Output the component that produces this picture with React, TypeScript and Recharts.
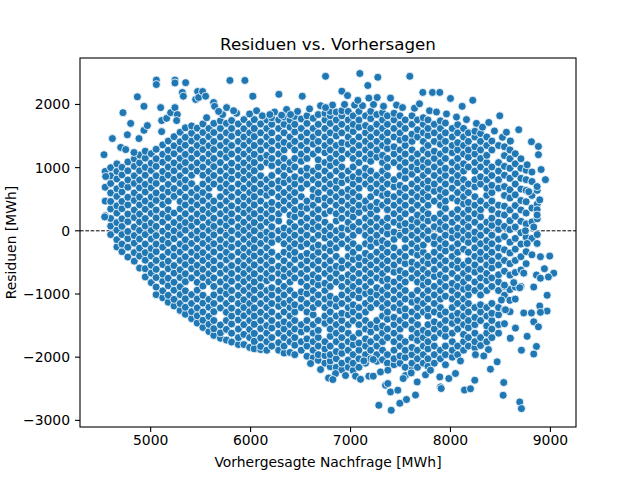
import React from 'react';
import { ScatterChart, Scatter, XAxis, YAxis, ReferenceLine } from 'recharts';

// Dense core of the cloud, read column by column: [prediction, residuals in that column]
const columnsWest: [number, number[]][] = [
  [4545, [240, 470, 690, 940]],
  [4600, [-60, 75, 195, 345, 465, 600, 750, 870, 1000]],
  [4662, [-255, -140, 10, 130, 280, 395, 545, 665, 820, 940, 1060]],
  [4713, [-330, -210, -60, 70, 190, 350, 465, 615, 730, 885, 1005]],
  [4772, [-415, -260, -125, -10, 145, 265, 410, 530, 690, 805, 950, 1090]],
  [4836, [-480, -345, -195, -75, 60, 210, 330, 480, 600, 750, 870, 1020, 1140]],
  [4889, [-590, -400, -275, -130, 5, 140, 265, 410, 535, 680, 805, 950, 1075, 1200]],
  [4946, [-730, -600, -465, -345, -210, -60, 75, 195, 340, 470, 615, 735, 880, 1005, 1150, 1260]],
  [5006, [-820, -670, -545, -400, -280, -130, 5, 125, 275, 410, 535, 680, 800, 955, 1070, 1220]],
  [5055, [-1010, -890, -740, -610, -470, -330, -210, -75, 70, 205, 330, 480, 600, 750, 870, 1020, 1140, 1290]],
  [5121, [-1060, -950, -800, -685, -535, -410, -260, -140, -5, 140, 265, 415, 540, 670, 820, 940, 1085, 1210, 1360]],
  [5176, [-1130, -1020, -870, -750, -600, -480, -340, -195, -70, 60, 210, 335, 470, 615, 735, 880, 1010, 1150, 1275, 1420]],
  [5234, [-1190, -1085, -940, -815, -670, -550, -400, -275, -125, 0, 130, 280, 545, 670, 815, 950, 1075, 1220, 1345, 1490]],
  [5295, [-1260, -1150, -1010, -885, -740, -615, -470, -335, -210, -60, 70, 200, 345, 465, 610, 750, 870, 1015, 1145, 1290, 1410, 1560]],
  [5347, [-1320, -1210, -1075, -950, -805, -680, -535, -410, -265, -140, 10, 130, 270, 410, 535, 680, 805, 950, 1080, 1210, 1355, 1480, 1630]],
  [5410, [-1390, -1280, -1150, -1010, -745, -600, -475, -340, -200, -65, 75, 195, 340, 470, 605, 745, 880, 1010, 1150, 1280, 1420, 1545, 1660]],
  [5466, [-1460, -1345, -1220, -1080, -940, -815, -670, -545, -400, -275, -130, -5, 140, 265, 410, 540, 670, 945, 1075, 1220, 1350, 1480, 1625]],
  [5523, [-1530, -1415, -1285, -1145, -1020, -875, -740, -610, -470, -345, -200, -70, 65, 205, 335, 475, 605, 740, 880, 1010, 1145, 1285, 1415, 1555, 1690]],
];

const columnsCenter: [number, number[]][] = [
  [5583, [-1595, -1480, -1355, -1210, -1085, -805, -680, -540, -410, -265, -135, 5, 130, 275, 400, 545, 675, 810, 940, 1085, 1215, 1345, 1490, 1620]],
  [5632, [-1655, -1550, -1420, -1280, -1150, -1015, -880, -745, -605, -475, -335, -205, -65, 70, 200, 340, 470, 740, 875, 1015, 1145, 1285, 1415, 1555, 1700]],
  [5698, [-1700, -1615, -1490, -1220, -1075, -950, -810, -670, -545, -405, -270, -140, 0, 135, 270, 405, 540, 680, 810, 945, 1080, 1215, 1350, 1485, 1620, 1740]],
  [5758, [-1730, -1560, -1420, -1290, -1150, -1000, -880, -750, -610, -460, -340, -210, -70, 80, 200, 330, 470, 615, 740, 870, 1010, 1160, 1280, 1410, 1550, 1700]],
  [5810, [-1760, -1620, -1475, -1350, -1225, -1080, -945, -800, -675, -550, -405, -260, -135, 0, 145, 270, 395, 540, 675, 820, 945, 1070, 1215, 1350, 1495, 1620, 1745]],
  [5878, [-1800, -1690, -1555, -1410, -1285, -1150, -1020, -880, -745, -610, -480, -340, -205, -60, 65, 200, 340, 470, 605, 740, 880, 1010, 1145, 1275, 1415, 1550, 1690]],
  [5933, [-1800, -1640, -1485, -1345, -1215, -1090, -945, -805, -675, -545, -405, -275, -135, 5, 135, 280, 405, 535, 675, 815, 945, 1075, 1215, 1355, 1485, 1615, 1760]],
  [5991, [-1845, -1690, -1560, -1420, -1280, -1150, -1015, -885, -745, -610, -470, -340, -205, -70, 65, 205, 335, 475, 605, 740, 880, 1010, 1145, 1280, 1420, 1550, 1690]],
  [6038, [-1865, -1750, -1625, -1480, -1350, -1220, -1080, -940, -810, -680, -540, -400, -270, -140, 0, 130, 270, 410, 540, 670, 810, 950, 1080, 1210, 1350, 1490, 1620, 1760]],
  [6101, [-1880, -1830, -1695, -1550, -1420, -1290, -1150, -1010, -880, -750, -610, -470, -340, -200, -70, 70, 200, 330, 470, 610, 740, 870, 1010, 1150, 1280, 1410, 1550, 1690]],
  [6162, [-1890, -1755, -1620, -1500, -1350, -1215, -1080, -945, -790, -675, -540, -405, -270, -135, -20, 135, 270, 405, 560, 675, 810, 1080, 1195, 1350, 1485, 1620, 1755]],
  [6212, [-1825, -1690, -1540, -1420, -1285, -1150, -1015, -900, -745, -610, -475, -340, -185, -70, 65, 200, 335, 450, 605, 740, 875, 1030, 1145, 1280, 1415, 1550, 1685, 1790]],
  [6281, [-1890, -1770, -1620, -1485, -1350, -1195, -1080, -945, -810, -675, -560, -405, -135, 0, 155, 270, 405, 540, 675, 790, 945, 1080, 1215, 1350, 1470, 1620, 1755]],
  [6335, [-1935, -1825, -1690, -1555, -1440, -1285, -1150, -1015, -880, -725, -610, -475, -340, -205, -70, 45, 335, 470, 605, 760, 875, 1010, 1145, 1280, 1400, 1550, 1685, 1800]],
  [6394, [-1925, -1755, -1620, -1485, -1350, -1215, -1100, -945, -810, -675, -540, -385, -270, -135, 0, 135, 250, 405, 540, 675, 810, 965, 1080, 1350, 1485, 1640, 1755]],
  [6442, [-1960, -1810, -1690, -1555, -1420, -1285, -1170, -1015, -745, -610, -455, -340, -205, -70, 65, 220, 335, 470, 605, 740, 855, 1010, 1145, 1280, 1415, 1565, 1685, 1810]],
  [6507, [-1890, -1755, -1600, -1485, -1215, -1080, -965, -810, -675, -540, -405, -250, -135, 0, 135, 270, 385, 540, 675, 810, 945, 1100, 1215, 1350, 1485, 1620, 1770]],
  [6564, [-1985, -1825, -1710, -1555, -1420, -1285, -1150, -995, -880, -745, -610, -475, -360, -205, -70, 65, 200, 355, 470, 740, 875, 990, 1145, 1280, 1415, 1550, 1700, 1820]],
  [6626, [-2010, -1890, -1755, -1620, -1485, -1330, -1215, -1080, -945, -810, -695, -540, -405, -270, -135, 20, 135, 270, 405, 540, 655, 810, 945, 1215, 1370, 1485, 1620, 1780]],
  [6677, [-2050, -1960, -1825, -1690, -1575, -1420, -1150, -1015, -860, -745, -610, -475, -340, -225, -70, 65, 200, 335, 490, 605, 740, 875, 1010, 1125, 1280, 1415, 1550, 1685, 1840]],
  [6744, [-2095, -1975, -1870, -1755, -1465, -1350, -1215, -1080, -945, -830, -675, -540, -405, -270, -115, 0, 135, 270, 405, 520, 675, 810, 945, 1080, 1235, 1350, 1485, 1620, 1755, 1860]],
  [6797, [-2150, -2060, -1960, -1825, -1670, -1555, -1420, -1285, -1150, -1035, -880, -745, -610, -475, -320, -205, -70, 65, 315, 470, 605, 740, 875, 1030, 1145, 1280, 1415, 1550, 1700, 1820, 1890]],
  [6857, [-2160, -2025, -1910, -1755, -1620, -1485, -1350, -1195, -1080, -810, -675, -560, -405, -270, -135, 0, 155, 270, 405, 540, 675, 790, 945, 1080, 1215, 1350, 1500, 1620, 1755, 1880]],
];

const columnsEast: [number, number[]][] = [
  [6913, [-2200, -2095, -1940, -1825, -1690, -1555, -1420, -1305, -1150, -1015, -880, -745, -590, -475, -205, -70, 45, 200, 335, 470, 605, 760, 875, 1010, 1145, 1280, 1395, 1550, 1685, 1820, 1900]],
  [6977, [-2160, -2045, -1890, -1755, -1620, -1485, -1330, -1215, -1080, -945, -810, -695, -540, -405, -270, -135, 20, 135, 270, 405, 540, 655, 810, 945, 1215, 1370, 1485, 1620, 1755, 1890]],
  [7026, [-2210, -2095, -1960, -1805, -1690, -1420, -1285, -1170, -1015, -880, -745, -610, -455, -340, -205, -70, 65, 220, 335, 470, 605, 740, 855, 1010, 1145, 1280, 1415, 1570, 1685, 1820]],
  [7084, [-2160, -2025, -1890, -1775, -1620, -1485, -1350, -1215, -1060, -945, -810, -675, -540, -425, -270, 0, 135, 290, 405, 540, 675, 810, 925, 1080, 1215, 1350, 1485, 1640, 1755, 1890]],
  [7150, [-2095, -1960, -1825, -1710, -1555, -1420, -1285, -1150, -995, -880, -745, -610, -475, -360, -205, -70, 65, 200, 355, 470, 740, 875, 990, 1145, 1280, 1415, 1550, 1665, 1820]],
  [7202, [-2025, -1890, -1755, -1600, -1485, -1215, -1080, -965, -810, -675, -540, -405, -250, -135, 0, 135, 270, 385, 540, 675, 810, 945, 1100, 1215, 1350, 1485, 1620, 1775, 1890]],
  [7263, [-2065, -1960, -1825, -1690, -1535, -1420, -1150, -1015, -900, -745, -610, -475, -340, -185, -70, 65, 200, 335, 450, 605, 740, 875, 1165, 1280, 1415, 1550, 1685, 1840]],
  [7320, [-2040, -1890, -1755, -1620, -1505, -1350, -1215, -1080, -945, -790, -675, -540, -405, -270, -155, 0, 135, 405, 560, 675, 810, 945, 1080, 1195, 1350, 1485, 1620, 1755, 1870]],
  [7369, [-2095, -1960, -1690, -1555, -1400, -1285, -1150, -1015, -880, -765, -610, -475, -340, -205, -50, 65, 200, 335, 470, 585, 740, 875, 1010, 1145, 1300, 1415, 1550, 1685, 1820]],
  [7435, [-2120, -2025, -1890, -1755, -1620, -1485, -1370, -1215, -1080, -945, -810, -655, -540, -405, -270, -135, -20, 135, 270, 405, 540, 695, 810, 1080, 1215, 1330, 1485, 1620, 1755, 1860]],
  [7495, [-2095, -1980, -1825, -1690, -1555, -1420, -1265, -1150, -1015, -880, -745, -630, -475, -340, -70, 85, 200, 335, 470, 605, 720, 875, 1010, 1145, 1280, 1435, 1550, 1685, 1820]],
  [7547, [-2160, -2005, -1890, -1755, -1485, -1350, -1235, -1080, -945, -810, -675, -520, -405, -270, -135, 0, 115, 270, 405, 540, 675, 830, 945, 1080, 1215, 1350, 1465, 1620, 1755]],
  [7615, [-2200, -2095, -1960, -1845, -1690, -1555, -1420, -1285, -1130, -1015, -745, -610, -495, -340, -205, -70, 65, 180, 335, 470, 605, 740, 895, 1010, 1145, 1280, 1415, 1530, 1685, 1820]],
  [7670, [-2160, -2025, -1890, -1735, -1620, -1485, -1350, -1215, -1100, -945, -810, -675, -540, -385, -270, -135, 0, 135, 250, 405, 540, 675, 810, 965, 1080, 1215, 1485, 1600, 1755]],
  [7728, [-2095, -1960, -1825, -1690, -1575, -1285, -1150, -1015, -860, -745, -610, -475, -340, -225, -70, 65, 200, 335, 490, 605, 740, 875, 1010, 1125, 1280, 1415, 1550, 1685, 1790]],
  [7775, [-2145, -2025, -1870, -1755, -1620, -1485, -1350, -1235, -1080, -945, -810, -675, -520, -405, -135, 0, 155, 270, 405, 540, 675, 790, 945, 1080, 1215, 1350, 1505, 1620, 1755]],
  [7838, [-2095, -1960, -1825, -1690, -1555, -1440, -1285, -1150, -1015, -880, -725, -610, -475, -340, -205, -90, 65, 200, 470, 625, 740, 875, 1010, 1145, 1260, 1415, 1550, 1685]],
  [7899, [-2025, -1890, -1620, -1485, -1330, -1215, -1080, -945, -810, -695, -540, -405, -270, -135, 20, 135, 270, 405, 540, 655, 810, 945, 1080, 1215, 1370, 1485, 1620, 1740]],
  [7949, [-1960, -1825, -1670, -1555, -1420, -1285, -1035, -880, -745, -610, -475, -320, -205, -70, 65, 200, 355, 470, 605, 740, 875, 990, 1145, 1280, 1415, 1550, 1705]],
  [8018, [-2000, -1890, -1755, -1620, -1465, -1350, -1215, -1080, -945, -830, -675, -540, -405, -270, -115, 0, 135, 270, 520, 675, 810, 945, 1080, 1235, 1350, 1485, 1620]],
  [8072, [-1960, -1825, -1555, -1420, -1305, -1150, -1015, -880, -745, -590, -475, -340, -205, -70, 45, 200, 335, 470, 605, 760, 875, 1010, 1145, 1280, 1395, 1550, 1680]],
  [8131, [-1890, -1755, -1640, -1485, -1350, -1215, -1080, -925, -810, -675, -540, -290, -135, 0, 135, 270, 425, 540, 675, 810, 945, 1060, 1215, 1350, 1485, 1620]],
  [8179, [-1825, -1690, -1535, -1420, -1285, -1150, -1015, -900, -745, -610, -475, -340, -185, -70, 65, 200, 335, 450, 605, 740, 1010, 1165, 1280, 1415, 1550]],
  [8244, [-1850, -1755, -1620, -1485, -1370, -1215, -945, -810, -655, -540, -405, -270, -135, -20, 135, 270, 405, 540, 695, 810, 945, 1080, 1215, 1330, 1485, 1575]],
  [8301, [-1815, -1690, -1420, -1285, -1170, -1015, -880, -745, -610, -455, -340, -205, -70, 65, 220, 335, 470, 740, 855, 1010, 1145, 1280, 1415, 1540]],
  [8363, [-1755, -1620, -1505, -1350, -1215, -945, -790, -675, -540, -405, -270, -155, 0, 135, 405, 560, 675, 810, 945, 1080, 1195, 1350, 1485]],
  [8414, [-1690, -1555, -1420, -1305, -1150, -880, -745, -590, -475, -340, -205, -70, 85, 200, 335, 470, 605, 720, 875, 1010, 1280, 1420]],
  [8481, [-1620, -1485, -1330, -1215, -945, -810, -695, -540, -405, -270, -135, 20, 135, 270, 405, 675, 810, 945, 1080, 1350]],
];

const columnsTail: [number, number[]][] = [
  [8540, [-1470, -1250, -1020, -880, -640, -470, -300, -90, 70, 250, 390, 560, 700, 880, 1020, 1190, 1330]],
  [8596, [-1280, -1100, -930, -700, -520, -350, -180, 20, 160, 330, 520, 650, 830, 990, 1140, 1280]],
  [8648, [-1080, -890, -660, -470, -290, -120, 60, 230, 400, 570, 740, 900, 1060, 1220]],
  [8705, [-880, -620, -410, -210, -30, 150, 330, 480, 660, 830, 990, 1140]],
  [8757, [-520, -330, -100, 110, 280, 460, 640, 810, 960]],
  [8815, [-380, -120, 140, 360, 560, 780, 930]],
  [8868, [-60, 190, 420, 640]],
];

// Ragged rim just outside the dense core: [prediction, residual]
const edgeFringe: [number, number][] = [
  [5560, 1790], [5720, 1840], [5860, 1860], [5990, 1850], [6060, 1900], [6240, 1880], [6360, 1920],
  [6470, 1890], [6590, 1930], [6700, 1980], [6820, 1990], [6940, 2000], [7040, 1990], [7120, 1980],
  [7230, 2000], [7330, 1970], [7460, 1990], [7520, 1950], [7640, 1940], [7690, 2010], [7790, 1900],
  [7860, 1880], [7960, 1850], [8060, 1800], [8160, 1760], [8260, 1700], [8320, 1640], [8440, 1580],
  [8520, 1480], [8600, 1420],
  [6600, -2100], [6850, -2260], [6950, -2290], [7050, -2300], [7550, -2290], [7750, -2280],
  [7950, -2120], [8100, -2060], [8250, -1960], [8380, -1880],
];

// Scattered points outside the dense core: [prediction, residual]
const upperOutliers: [number, number][] = [
  [4533, 1205], [4550, 860], [4540, 220], [4617, 1460], [4700, 1320], [4750, 1285], [4723, 1870],
  [4767, 1520], [4800, 1700], [4833, 1240], [4867, 2120], [4883, 1460], [4933, 1590], [4933, 1970],
  [4967, 1665], [5057, 2385], [5057, 2315], [5100, 1950], [5110, 1745], [5110, 1570], [5160, 1780],
  [5200, 1870], [5243, 2385], [5243, 2340], [5243, 1950], [5267, 1840], [5260, 1745], [5317, 2190],
  [5327, 2130], [5350, 2345], [5450, 2080], [5470, 2205], [5480, 2110], [5520, 2205], [5550, 2130],
  [5630, 2030], [5640, 1970], [5680, 1890], [5760, 1950], [5793, 2380], [5830, 1900], [5943, 2380],
  [6023, 2130], [6117, 1820], [6193, 1840], [6283, 2160], [6310, 1830], [6400, 1840], [6517, 2130],
  [6750, 2445], [6750, 1950], [6913, 2210], [6970, 2140], [7073, 2065], [7093, 2490], [7173, 2300],
  [7183, 2100], [7267, 2110], [7273, 2430], [7400, 2100], [7593, 2445], [7723, 2190], [7820, 2190],
  [7893, 2190], [8000, 2095], [8117, 1970], [8223, 2065], [8383, 1715], [8493, 1820], [8560, 1560],
  [8683, 1600], [8810, 1410], [8880, 1335], [8880, 1205], [8767, 1045],
];

const rightOutliers: [number, number][] = [
  [8907, 970], [8950, 810], [8867, 700], [8783, 620], [8893, 490], [8867, 335], [8867, 250],
  [8833, 60], [8750, 0], [8867, -200], [8767, -200], [8993, -400], [8900, -410], [8940, -600],
  [8733, -670], [9033, -670], [8860, -700], [8900, -750], [8980, -730], [8633, -820], [8540, -860],
  [8833, -890], [8693, -900], [8967, -1020], [8510, -1095], [8893, -1190], [8550, -1250],
  [8967, -1270], [8900, -1290], [8733, -1300], [8810, -1300], [8833, -1440], [8650, -1540],
  [8767, -1670], [8880, -1520], [8600, -1700], [8860, -1830], [8710, -1890], [8833, -1950],
];

const lowerOutliers: [number, number][] = [
  [6700, -2195], [6780, -2330], [6823, -2354], [7100, -2350], [7133, -2058], [7183, -2300],
  [7227, -2300], [7227, -2036], [7283, -2761], [7300, -2233], [7350, -2444], [7373, -2417],
  [7373, -2206], [7400, -2550], [7407, -2840], [7473, -2523], [7493, -2730], [7527, -2338],
  [7560, -2670], [7607, -2249], [7650, -2600], [7667, -2392], [7800, -2206], [7893, -2312],
  [7900, -2470], [7907, -2496], [7983, -2338], [8050, -2258], [8140, -2520], [8200, -2500],
  [8243, -2365], [8333, -1980], [8400, -2190], [8467, -2074], [8527, -2603], [8533, -2401],
  [8693, -2709], [8710, -2814],
];

const xTicks = [5000, 6000, 7000, 8000, 9000];
const yTicks = [-3000, -2000, -1000, 0, 1000, 2000];

const points = [...columnsWest, ...columnsCenter, ...columnsEast, ...columnsTail]
  .flatMap(([x, ys]) => ys.map((y) => ({ x, y })))
  .concat(
    [...edgeFringe, ...upperOutliers, ...rightOutliers, ...lowerOutliers].map(([x, y]) => ({ x, y })),
  );

const FONT = '"DejaVu Sans", sans-serif';

const Dot = (props: any) => (
  <circle cx={props.cx} cy={props.cy} r={4} fill="#1f77b4" stroke="#ffffff" strokeWidth={0.8} />
);

const fmt = (v: number) => String(v).replace('-', '\u2212');

export default function App() {
  return (
    <div style={{ position: 'absolute', left: 0, top: 0, width: 640, height: 480, background: '#fff', fontFamily: FONT }}>
      <ScatterChart width={640} height={480} margin={{ top: 58, right: 64, bottom: 23, left: 0 }}>
        <XAxis
          type="number"
          dataKey="x"
          domain={[4293, 9256]}
          ticks={xTicks}
          allowDataOverflow
          height={30}
          axisLine={false}
          tickSize={5}
          tickMargin={3}
          tickLine={{ stroke: '#000', strokeWidth: 1.1 }}
          tick={{ fontSize: 13.9, fill: '#000', fontFamily: FONT }}
        />
        <YAxis
          type="number"
          dataKey="y"
          domain={[-3105, 2735]}
          ticks={yTicks}
          allowDataOverflow
          width={80}
          axisLine={false}
          tickSize={5}
          tickMargin={5}
          tickLine={{ stroke: '#000', strokeWidth: 1.1 }}
          tick={{ fontSize: 13.9, fill: '#000', fontFamily: FONT }}
          tickFormatter={fmt}
        />
        <Scatter data={points} shape={Dot} isAnimationActive={false} />
        <ReferenceLine y={0} stroke="#000" strokeWidth={1} strokeDasharray="3.7 1.6" />
      </ScatterChart>
      <svg width={640} height={480} style={{ position: 'absolute', left: 0, top: 0, pointerEvents: 'none' }}>
        <rect x={80} y={58} width={496} height={369} fill="none" stroke="#000" strokeWidth={1.1} />
        <text x={328} y={50} textAnchor="middle" fontSize={16.7} fontFamily={FONT} fill="#000">
          Residuen vs. Vorhersagen
        </text>
        <text x={328} y={467} textAnchor="middle" fontSize={13.9} fontFamily={FONT} fill="#000">
          Vorhergesagte Nachfrage [MWh]
        </text>
        <text
          x={16}
          y={242.5}
          textAnchor="middle"
          fontSize={13.9}
          fontFamily={FONT}
          fill="#000"
          transform="rotate(-90 16 242.5)"
        >
          Residuen [MWh]
        </text>
      </svg>
    </div>
  );
}
